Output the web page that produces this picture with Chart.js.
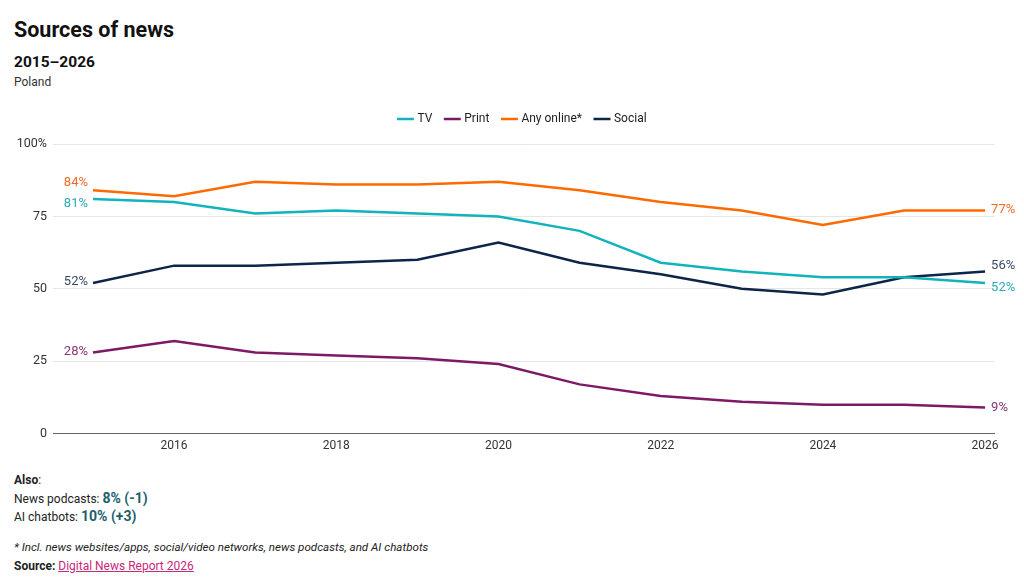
<!DOCTYPE html>
<html>
<head>
<meta charset="utf-8">
<script src="https://cdn.jsdelivr.net/npm/chart.js@4"></script>
<style>
  body { margin: 0; background: #fff; font-family: Roboto, "Noto Sans", sans-serif; color: #111; }
  #wrap { position: relative; width: 1024px; height: 577px; overflow: hidden; }
  .t { position: absolute; left: 14px; white-space: nowrap; }
  #title { top: 17px; font-size: 21.5px; font-weight: 700; }
  #sub { top: 53px; font-size: 15.5px; font-weight: 700; }
  #geo { top: 75px; font-size: 12px; color: #333; }
  #chartBox { position: absolute; left: 0; top: 99px; width: 1024px; height: 359px; }
  #also { top: 472px; font-size: 12px; color: #222; line-height: 17.5px; }
  #also b.v { font-size: 14px; color: #1d5f6b; }
  #note { top: 540px; font-size: 11.6px; font-style: italic; color: #222; }
  #src { top: 559px; font-size: 12px; color: #222; }
  #src a { color: #c8287a; }
</style>
</head>
<body>
<div id="wrap">
  <div class="t" id="title">Sources of news</div>
  <div class="t" id="sub">2015–2026</div>
  <div class="t" id="geo">Poland</div>
  <div id="chartBox"><canvas id="myChart"></canvas></div>
  <div class="t" id="also"><b>Also</b>:<br>News podcasts: <b class="v">8% (-1)</b><br>AI chatbots: <b class="v">10% (+3)</b></div>
  <div class="t" id="note">* Incl. news websites/apps, social/video networks, news podcasts, and AI chatbots</div>
  <div class="t" id="src"><b>Source:</b> <a href="#">Digital News Report 2026</a></div>
</div>
<script>
const years = [2015, 2016, 2017, 2018, 2019, 2020, 2021, 2022, 2023, 2024, 2025, 2026];
const tv = [81, 80, 76, 77, 76, 75, 70, 59, 56, 54, 54, 52];
const print = [28, 32, 28, 27, 26, 24, 17, 13, 11, 10, 10, 9];
const anyOnline = [84, 82, 87, 86, 86, 87, 84, 80, 77, 72, 77, 77];
const social = [52, 58, 58, 59, 60, 66, 59, 55, 50, 48, 54, 56];
const yTicks = [0, 25, 50, 75, 100];
const xTicks = [2016, 2018, 2020, 2022, 2024, 2026];

const toPoints = (vals) => years.map((yr, i) => ({ x: yr, y: vals[i] }));

// label offsets for start/end labels so they don't collide
const series = [
  { label: "TV", data: tv, color: "#12b3bd", text: "#2aaab4", start: 5, end: 5 },
  { label: "Print", data: print, color: "#7d1a66", text: "#8a3479", start: -1, end: 0 },
  { label: "Any online*", data: anyOnline, color: "#ff6a00", text: "#f06a2a", start: -8, end: -1 },
  { label: "Social", data: social, color: "#0c2549", text: "#3b4a68", start: -1, end: -6 },
];

const endLabels = {
  id: "endLabels",
  afterDatasetsDraw(chart) {
    const ctx = chart.ctx;
    ctx.save();
    ctx.font = "13px Roboto, 'Noto Sans', sans-serif";
    ctx.textBaseline = "middle";
    chart.data.datasets.forEach((ds, i) => {
      const meta = chart.getDatasetMeta(i);
      const s = series[i];
      const first = meta.data[0];
      const last = meta.data[meta.data.length - 1];
      ctx.fillStyle = s.text;
      ctx.textAlign = "right";
      ctx.fillText(s.data[0] + "%", first.x - 5, first.y + s.start);
      ctx.textAlign = "left";
      ctx.fillText(s.data[s.data.length - 1] + "%", last.x + 6, last.y + s.end);
    });
    ctx.restore();
  }
};

// a bit more room under the legend, and nudge it to the right
const legendTweak = {
  id: "legendTweak",
  beforeInit(chart) {
    const legend = chart.legend;
    if (!legend) return;
    const fit = legend.fit;
    legend.fit = function () { fit.call(this); this.height += 9; };
    const draw = legend.draw;
    legend.draw = function () {
      const c = this.ctx;
      c.save();
      c.translate(26, 0);
      draw.call(this);
      c.restore();
    };
  }
};

const ctx = document.querySelector("#myChart").getContext("2d");
const myChart = new Chart(ctx, {
  type: "line",
  data: {
    datasets: series.map(s => ({
      label: s.label,
      data: toPoints(s.data),
      borderColor: s.color,
      backgroundColor: s.color,
      borderWidth: 2.5,
      pointRadius: 0,
      tension: 0,
    })),
  },
  options: {
    responsive: true,
    maintainAspectRatio: false,
    animation: false,
    layout: { padding: { left: 0, right: 30, top: 0, bottom: 0 } },
    plugins: {
      tooltip: { enabled: false },
      legend: {
        position: "top",
        labels: {
          usePointStyle: true,
          pointStyle: "line",
          boxWidth: 18,
          padding: 14,
          color: "#222",
          font: { family: "Roboto, 'Noto Sans', sans-serif", size: 12 },
        },
      },
    },
    scales: {
      x: {
        type: "linear",
        min: 2014.507,
        max: 2026.11,
        afterBuildTicks: (scale) => { scale.ticks = xTicks.map(v => ({ value: v })); },
        grid: { display: false, drawTicks: false },
        border: { display: true, color: "#666", width: 1 },
        ticks: {
          color: "#333",
          padding: 5,
          maxRotation: 0,
          font: { family: "Roboto, 'Noto Sans', sans-serif", size: 12 },
          callback: (v) => String(v),
        },
      },
      y: {
        min: 0,
        max: 100,
        afterBuildTicks: (scale) => { scale.ticks = yTicks.map(v => ({ value: v })); },
        afterFit: (scale) => { scale.width = 53; },
        grid: { color: "#e6e6e6", drawTicks: false },
        border: { display: false },
        ticks: {
          color: "#333",
          padding: 6,
          font: { family: "Roboto, 'Noto Sans', sans-serif", size: 12.5 },
          callback: (v) => v === 100 ? "100%" : String(v),
        },
      },
    },
  },
  plugins: [legendTweak, endLabels],
});
</script>
</body>
</html>
